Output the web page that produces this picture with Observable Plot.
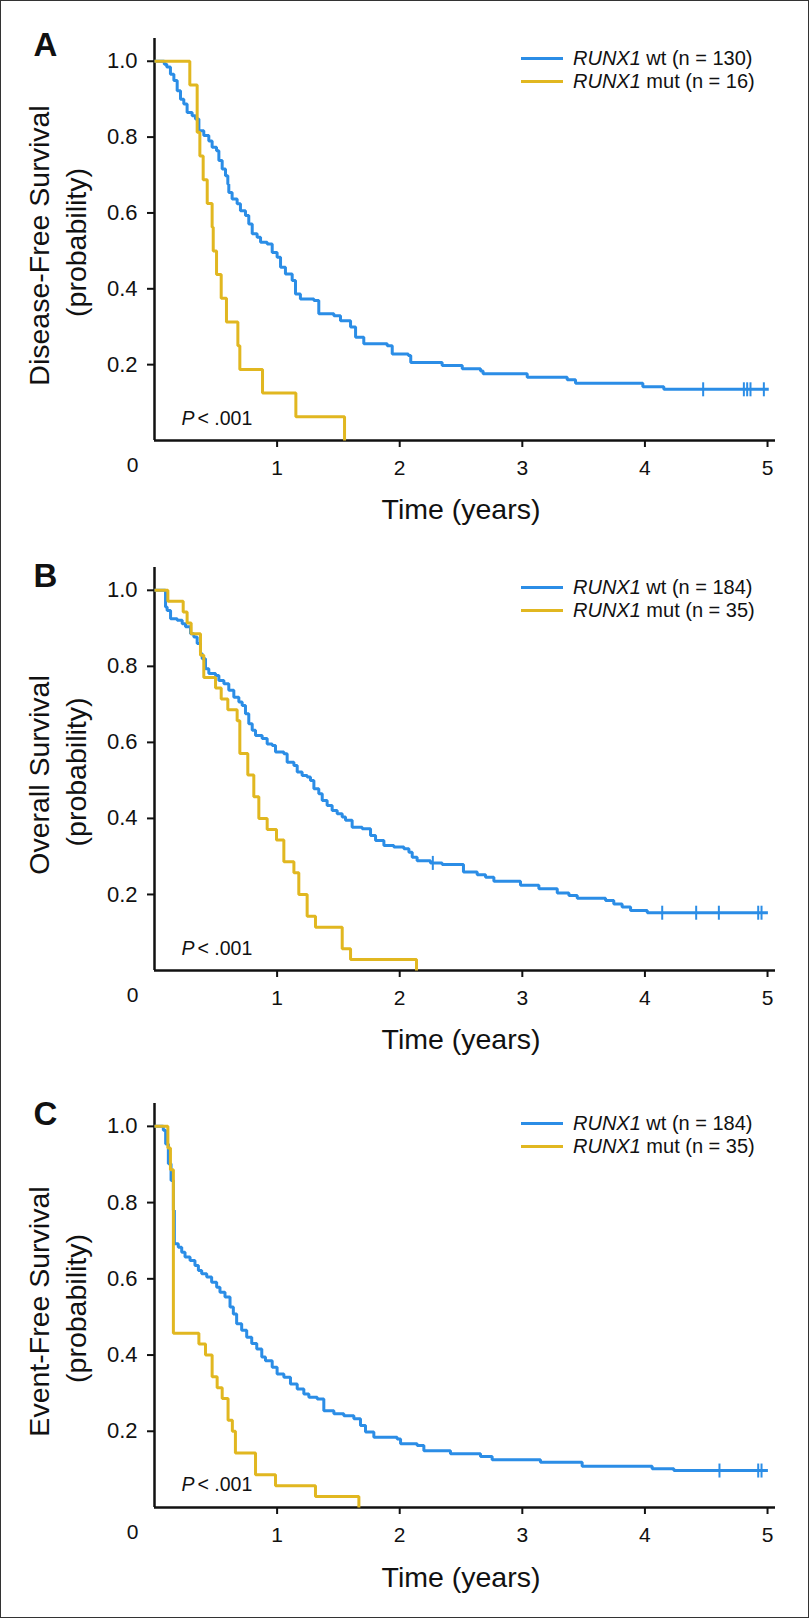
<!DOCTYPE html>
<html>
<head>
<meta charset="utf-8">
<script src="https://cdn.jsdelivr.net/npm/d3@7"></script>
<script src="https://cdn.jsdelivr.net/npm/@observablehq/plot@0.6"></script>
<style>
  html, body { margin: 0; padding: 0; background: #fff; }
  #page { position: relative; width: 809px; height: 1618px; overflow: hidden;
          font-family: "Liberation Sans", Arial, Helvetica, sans-serif; color: #111; }
  .panel { position: relative; width: 809px; }
  .panel svg { display: block; }
  .legend { position: absolute; left: 521px; top: 0; font-size: 20px; color: #111; }
  .legend .row { position: absolute; left: 0; height: 24px; white-space: nowrap;
                 display: flex; align-items: center; }
  .legend .sw { width: 42px; height: 3px; margin-right: 10px; }
  #border { position: absolute; left: 0; top: 0; width: 809px; height: 1618px;
            box-sizing: border-box; border: 1.5px solid #333; pointer-events: none; }
</style>
</head>
<body>
<div id="page"></div>
<script>
// ---------- text ----------
const gene = "RUNX1";
const groupLabels = ["wt", "mut"];
const seriesColors = ["#2B8DE6", "#E1B720"];
const panelLetters = ["A", "B", "C"];
const yTitles = ["Disease-Free Survival", "Overall Survival", "Event-Free Survival"];
const yTitleSub = "(probability)";
const xTitle = "Time (years)";
const pItalic = "P";
const pRest = "< .001";
const originLabel = "0";
const xTickValues = [1, 2, 3, 4, 5];
const yTickValues = [0.2, 0.4, 0.6, 0.8, 1.0];

// ---------- group sizes ----------
const countsDFS = [130, 16];
const countsOS = [184, 35];
const countsEFS = [184, 35];

// ---------- Kaplan-Meier steps [time (years), survival] ----------
const dfsWt = [[0,1],[0.08,0.992],[0.10,0.985],[0.13,0.966],[0.158,0.949],[0.185,0.922],[0.212,0.9],[0.239,0.887],[0.266,0.865],[0.307,0.856],[0.334,0.848],[0.362,0.817],[0.402,0.804],[0.443,0.79],[0.47,0.773],[0.506,0.764],[0.525,0.738],[0.552,0.716],[0.579,0.698],[0.598,0.676],[0.606,0.654],[0.633,0.637],[0.674,0.624],[0.701,0.606],[0.742,0.593],[0.769,0.571],[0.797,0.545],[0.837,0.536],[0.865,0.523],[0.919,0.518],[0.96,0.496],[1.0,0.483],[1.028,0.457],[1.068,0.439],[1.123,0.422],[1.15,0.386],[1.19,0.373],[1.30,0.369],[1.34,0.334],[1.463,0.329],[1.517,0.316],[1.599,0.299],[1.64,0.272],[1.707,0.255],[1.898,0.25],[1.939,0.228],[2.07,0.224],[2.09,0.206],[2.346,0.198],[2.51,0.189],[2.659,0.183],[2.68,0.176],[3.04,0.167],[3.366,0.160],[3.434,0.151],[3.983,0.142],[4.154,0.135],[5.01,0.135]];
const dfsMut = [[0,1],[0.288,0.9375],[0.348,0.8125],[0.37,0.75],[0.397,0.6875],[0.43,0.625],[0.47,0.5625],[0.479,0.5],[0.506,0.4375],[0.544,0.375],[0.587,0.3125],[0.68,0.25],[0.696,0.1875],[0.881,0.125],[1.153,0.0625],[1.55,0]];
const dfsWtCensored = [4.475, 4.807, 4.834, 4.861, 4.97];

const osWt = [[0,1],[0.09,0.956],[0.103,0.947],[0.131,0.925],[0.185,0.921],[0.226,0.912],[0.253,0.904],[0.294,0.886],[0.321,0.877],[0.348,0.86],[0.375,0.833],[0.389,0.82],[0.416,0.794],[0.443,0.781],[0.498,0.776],[0.525,0.763],[0.566,0.754],[0.606,0.737],[0.647,0.719],[0.688,0.706],[0.715,0.697],[0.742,0.675],[0.769,0.649],[0.797,0.632],[0.824,0.618],[0.878,0.61],[0.919,0.596],[0.96,0.592],[0.987,0.575],[1.055,0.57],[1.082,0.548],[1.137,0.539],[1.164,0.522],[1.204,0.513],[1.245,0.509],[1.272,0.5],[1.30,0.478],[1.34,0.465],[1.368,0.447],[1.408,0.434],[1.449,0.421],[1.49,0.412],[1.531,0.404],[1.558,0.395],[1.612,0.377],[1.694,0.373],[1.762,0.355],[1.803,0.342],[1.871,0.329],[1.952,0.325],[2.034,0.32],[2.075,0.311],[2.102,0.298],[2.142,0.289],[2.251,0.283],[2.346,0.279],[2.52,0.259],[2.632,0.252],[2.70,0.245],[2.768,0.235],[2.985,0.224],[3.135,0.215],[3.285,0.204],[3.38,0.197],[3.448,0.19],[3.679,0.184],[3.746,0.175],[3.814,0.167],[3.883,0.158],[4.019,0.152],[5.003,0.152]];
const osMut = [[0,1],[0.109,0.971],[0.234,0.943],[0.266,0.914],[0.299,0.886],[0.375,0.829],[0.402,0.771],[0.498,0.743],[0.544,0.714],[0.598,0.686],[0.674,0.657],[0.696,0.571],[0.761,0.514],[0.81,0.457],[0.851,0.4],[0.919,0.371],[0.995,0.343],[1.055,0.286],[1.137,0.257],[1.177,0.2],[1.245,0.143],[1.313,0.114],[1.531,0.057],[1.599,0.029],[2.137,0]];
const osWtCensored = [2.27, 4.141, 4.418, 4.603, 4.924, 4.951];

const efsWt = [[0,1],[0.072,0.99],[0.091,0.954],[0.113,0.902],[0.135,0.858],[0.154,0.78],[0.162,0.692],[0.194,0.683],[0.222,0.67],[0.249,0.657],[0.29,0.648],[0.33,0.635],[0.358,0.622],[0.385,0.613],[0.426,0.605],[0.466,0.591],[0.507,0.578],[0.534,0.565],[0.575,0.552],[0.616,0.526],[0.643,0.508],[0.67,0.482],[0.711,0.465],[0.752,0.447],[0.793,0.43],[0.834,0.416],[0.875,0.395],[0.905,0.385],[0.96,0.368],[1.0,0.35],[1.055,0.342],[1.109,0.324],[1.164,0.311],[1.218,0.298],[1.259,0.289],[1.327,0.285],[1.381,0.254],[1.463,0.246],[1.544,0.241],[1.626,0.233],[1.68,0.215],[1.721,0.198],[1.789,0.184],[1.979,0.18],[2.007,0.167],[2.142,0.163],[2.197,0.149],[2.414,0.141],[2.659,0.134],[2.754,0.125],[3.148,0.119],[3.488,0.108],[4.059,0.102],[4.236,0.097],[5.003,0.097]];
const efsMut = [[0,1],[0.109,0.943],[0.13,0.886],[0.154,0.457],[0.362,0.429],[0.416,0.4],[0.47,0.343],[0.511,0.314],[0.552,0.286],[0.60,0.229],[0.635,0.2],[0.66,0.143],[0.824,0.086],[0.987,0.057],[1.313,0.029],[1.667,0]];
const efsWtCensored = [4.608, 4.924, 4.951];

// ---------- layout (not data) ----------
const FONT = '"Liberation Sans", Arial, Helvetica, sans-serif';
const layouts = [
  {height: 529, marginTop: 38, marginBottom: 89, letterDy: 7,  pDy: -22, titleDy: 69},
  {height: 535, marginTop: 38, marginBottom: 94, letterDy: 9,  pDy: -22, titleDy: 69.5},
  {height: 554, marginTop: 39, marginBottom: 111, letterDy: 11, pDy: -23, titleDy: 70}
];
const panels = [
  {wt: dfsWt, mut: dfsMut, cens: dfsWtCensored, counts: countsDFS},
  {wt: osWt, mut: osMut, cens: osWtCensored, counts: countsOS},
  {wt: efsWt, mut: efsMut, cens: efsWtCensored, counts: countsEFS}
];

const vtick = {
  draw(ctx, size) {
    const h = Math.sqrt(size / Math.PI);
    ctx.moveTo(0, -h);
    ctx.lineTo(0, h);
  }
};

function stepValue(steps, t) {
  let s = steps[0][1];
  for (const [ti, si] of steps) if (ti <= t) s = si;
  return s;
}

const page = document.getElementById("page");

panels.forEach((p, i) => {
  const L = layouts[i];
  const wtRows = p.wt.map(([t, s]) => ({t, s}));
  const mutRows = p.mut.map(([t, s]) => ({t, s}));
  const censRows = p.cens.map(t => ({t, s: stepValue(p.wt, t)}));

  const chart = Plot.plot({
    width: 809,
    height: L.height,
    marginLeft: 154,
    marginRight: 34,
    marginTop: L.marginTop,
    marginBottom: L.marginBottom,
    style: {fontFamily: FONT, color: "#111", background: "transparent", overflow: "visible"},
    x: {domain: [0, 5.065], label: null},
    y: {domain: [0, 1.06], label: null},
    marks: [
      Plot.axisX({ticks: xTickValues, tickFormat: d3.format("d"), tickSize: 7, tickPadding: 13, fontSize: 21, label: null, strokeWidth: 2}),
      Plot.axisY({ticks: yTickValues, tickFormat: d3.format(".1f"), tickSize: 7, tickPadding: 10, fontSize: 22, label: null, strokeWidth: 2}),
      Plot.ruleY([0], {strokeWidth: 2.5}),
      Plot.ruleX([0], {strokeWidth: 2.5}),
      Plot.line(wtRows, {x: "t", y: "s", curve: "step-after", stroke: seriesColors[0], strokeWidth: 3, strokeLinejoin: "miter", strokeLinecap: "butt"}),
      Plot.dot(censRows, {x: "t", y: "s", symbol: vtick, r: 7, stroke: seriesColors[0], strokeWidth: 2, fill: "none"}),
      Plot.line(mutRows, {x: "t", y: "s", curve: "step-after", stroke: seriesColors[1], strokeWidth: 3, strokeLinejoin: "miter", strokeLinecap: "butt"}),
      Plot.text([originLabel], {text: d => d, frameAnchor: "bottom-left", dx: -22, dy: 25, fontSize: 21, textAnchor: "middle", lineAnchor: "middle"}),
      Plot.text([pItalic], {text: d => d, frameAnchor: "bottom-left", dx: 27, dy: L.pDy, fontSize: 19.5, fontStyle: "italic", textAnchor: "start", lineAnchor: "middle"}),
      Plot.text([pRest], {text: d => d, frameAnchor: "bottom-left", dx: 43, dy: L.pDy, fontSize: 19.5, textAnchor: "start", lineAnchor: "middle"}),
      Plot.text([xTitle], {text: d => d, frameAnchor: "bottom", dx: -4, dy: L.titleDy, fontSize: 28.5, textAnchor: "middle", lineAnchor: "middle"}),
      Plot.text([yTitles[i]], {text: d => d, frameAnchor: "left", rotate: -90, dx: -115, dy: 6, fontSize: 28.5, textAnchor: "middle", lineAnchor: "middle"}),
      Plot.text([yTitleSub], {text: d => d, frameAnchor: "left", rotate: -90, dx: -78, dy: 3, fontSize: 28.5, textAnchor: "middle", lineAnchor: "middle"}),
      Plot.text([panelLetters[i]], {text: d => d, frameAnchor: "top-left", dx: -109, dy: L.letterDy, fontSize: 33, fontWeight: "bold", textAnchor: "middle", lineAnchor: "middle"})
    ]
  });

  const div = document.createElement("div");
  div.className = "panel";
  div.style.height = L.height + "px";
  div.appendChild(chart);

  const legend = document.createElement("div");
  legend.className = "legend";
  groupLabels.forEach((g, k) => {
    const row = document.createElement("div");
    row.className = "row";
    row.style.top = (L.marginTop + 20 + k * 23 - 12) + "px";
    const sw = document.createElement("span");
    sw.className = "sw";
    sw.style.background = seriesColors[k];
    const tx = document.createElement("span");
    const it = document.createElement("i");
    it.textContent = gene;
    tx.appendChild(it);
    tx.appendChild(document.createTextNode(` ${g} (n = ${p.counts[k]})`));
    row.appendChild(sw);
    row.appendChild(tx);
    legend.appendChild(row);
  });
  div.appendChild(legend);
  page.appendChild(div);
});

const border = document.createElement("div");
border.id = "border";
page.appendChild(border);
</script>
</body>
</html>
